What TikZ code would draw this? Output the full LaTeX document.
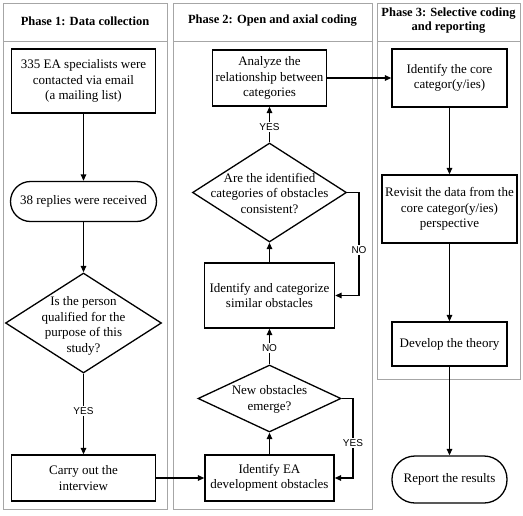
\documentclass[tikz,border=0pt]{standalone}
\usepackage{fontspec}
\setmainfont{Liberation Serif}
\newfontfamily\lblfont{Liberation Sans}
\usetikzlibrary{arrows.meta,shapes.geometric}
\begin{document}
\begin{tikzpicture}[x=1pt,y=-1pt,
  every node/.style={font=\rmfamily\fontsize{13}{15.5}\selectfont, align=center},
  frame/.style={draw=black!35, line width=0.8pt},
  head/.style={font=\rmfamily\bfseries\fontsize{12.5}{14}\selectfont},
  proc/.style={draw, line width=1.3pt, inner sep=2pt},
  term/.style={draw, line width=1.3pt, inner sep=2pt},
  dec/.style={diamond, draw, line width=1.3pt, inner sep=0pt},
  txt/.style={inner sep=0pt},
  lbl/.style={font=\lblfont\fontsize{10}{12}\selectfont, fill=white, inner sep=1.5pt},
  arr/.style={line width=1.3pt, -{Triangle[length=6.5pt,width=5.5pt]}}]
\useasboundingbox (0,0) rectangle (523,515);
% frames
\draw[frame] (3,3) rectangle (167,509);
\draw[frame] (3,41) -- (167,41);
\draw[frame] (173,3) rectangle (372,509);
\draw[frame] (173,41) -- (372,41);
\draw[frame] (377,3) rectangle (520,379);
\draw[frame] (377,41) -- (520,41);
\node[head] (h1) at (85,21) {Phase 1: Data collection};
\node[head] (h2) at (272.5,21) {Phase 2: Open and axial coding};
\node[head] (h3) at (448.5,21) {Phase 3: Selective coding\\and reporting};
% phase 1
\node[proc, minimum width=144pt, minimum height=64pt] (n1) at (83.5,81) {335 EA specialists were\\contacted via email\\(a mailing list)};
\node[term, rounded corners=20pt, minimum width=146pt, minimum height=40pt] (n2) at (83.5,201.5) {38 replies were received};
\node[dec, minimum width=156pt, minimum height=100pt] (d1) at (83.5,323) {};
\node[txt] (d1t) at (83.5,326) {Is the person\\qualified for the\\purpose of this\\study?};
\node[proc, minimum width=144pt, minimum height=46pt] (n3) at (83.5,478) {Carry out the\\interview};
% phase 2
\node[proc, minimum width=129pt, minimum height=46pt] (m1) at (269.5,478) {Identify EA\\development obstacles};
\node[dec, minimum width=143pt, minimum height=67pt] (d3) at (269.5,398.5) {};
\node[txt] (d3t) at (269.5,399.5) {New obstacles\\emerge?};
\node[proc, minimum width=130pt, minimum height=65pt] (m2) at (269.5,295.5) {Identify and categorize\\similar obstacles};
\node[dec, minimum width=154pt, minimum height=99pt] (d2) at (269.5,192.5) {};
\node[txt] (d2t) at (269.5,193.5) {Are the identified\\categories of obstacles\\consistent?};
\node[proc, minimum width=114pt, minimum height=56pt] (m3) at (269.5,78) {Analyze the\\relationship between\\categories};
% phase 3
\node[proc, minimum width=115pt, minimum height=58pt] (c1) at (449.5,78) {Identify the core\\categor(y/ies)};
\node[proc, minimum width=135pt, minimum height=68pt] (c2) at (449.5,209) {Revisit the data from the\\core categor(y/ies)\\perspective};
\node[proc, minimum width=115pt, minimum height=44pt] (c3) at (449.5,344) {Develop the theory};
\node[term, rounded corners=23pt, minimum width=115pt, minimum height=47pt] (c4) at (449.5,479.5) {Report the results};
% connectors phase 1
\draw[arr] (n1) -- (n2);
\draw[arr] (n2) -- (d1.north);
\draw[arr] (d1.south) -- (n3) node[lbl, pos=0.46] (y1) {YES};
\draw[arr] (n3) -- (m1);
% phase 2
\draw[arr] (m1) -- (d3.south);
\draw[arr] (d3.north) -- (m2) node[lbl, pos=0.45] (no1) {NO};
\coordinate (k1) at (353,398.5);
\draw[arr] (d3.east) -- (k1) |- (m1.east);
\node[lbl] (y2) at (353,443) {YES};
\draw[arr] (m2) -- (d2.south);
\coordinate (k2) at (359,192.5);
\draw[arr] (d2.east) -- (k2) |- (m2.east);
\node[lbl] (no2) at (359,250) {NO};
\draw[arr] (d2.north) -- (m3) node[lbl, pos=0.42] (y3) {YES};
\draw[arr] (m3) -- (c1);
% phase 3
\draw[arr] (c1) -- (c2);
\draw[arr] (c2) -- (c3);
\draw[arr] (c3) -- (c4);
\end{tikzpicture}
\end{document}
